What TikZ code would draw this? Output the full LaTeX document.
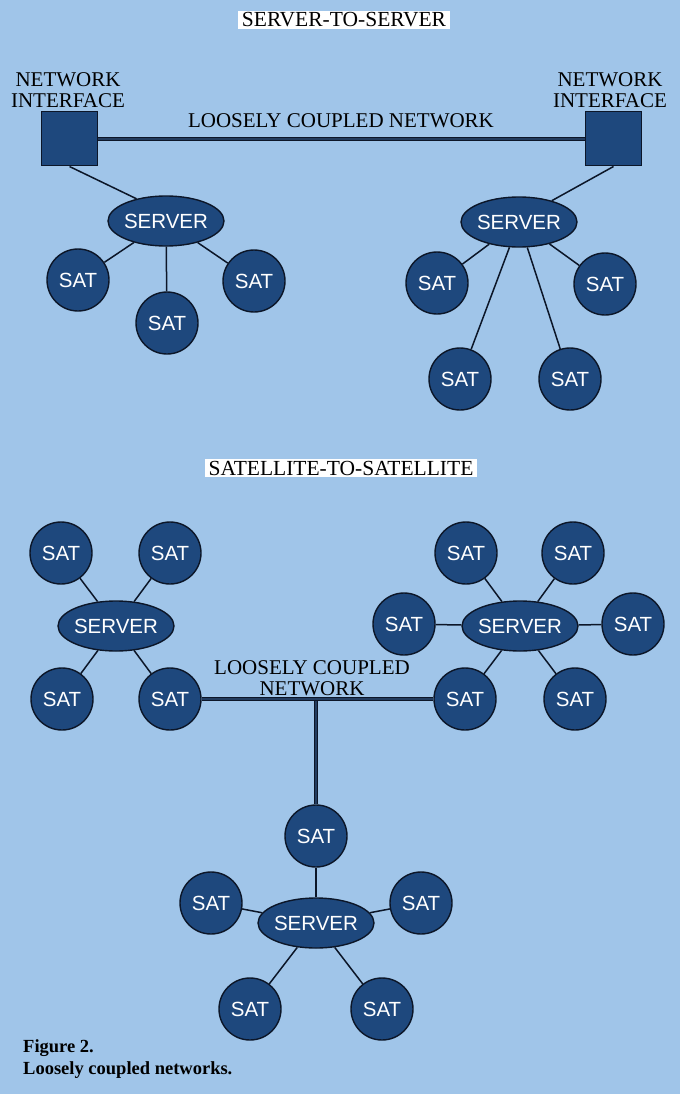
\documentclass[tikz,border=0pt]{standalone}
\usepackage{fontspec}
\setmainfont{Liberation Serif}
\newfontfamily\sansf{Liberation Sans}
\usetikzlibrary{shapes.geometric}
\definecolor{bg}{RGB}{160,197,233}
\definecolor{navy}{RGB}{30,72,125}
\definecolor{edgec}{RGB}{12,22,40}
\definecolor{wirein}{RGB}{35,60,95}
\tikzset{
  sat/.style={circle, draw=edgec, line width=1.4pt, fill=navy, minimum size=62pt, inner sep=0pt, text=white, font=\sansf\fontsize{20.5}{24}\selectfont},
  srv/.style={ellipse, draw=edgec, line width=1.4pt, fill=navy, minimum width=116pt, minimum height=50pt, inner sep=0pt, text=white, font=\sansf\fontsize{20.5}{24}\selectfont},
  nif/.style={rectangle, draw=edgec, line width=1pt, fill=navy, minimum width=56pt, minimum height=54pt, inner sep=0pt},
  link/.style={draw=edgec, line width=1.5pt},
  net/.style={draw=edgec, line width=1.6pt, double=wirein, double distance=1.2pt},
  lbl/.style={font=\fontsize{21}{21}\selectfont, inner sep=0pt, text=black, align=center},
  ttl/.style={fill=white, font=\fontsize{21.5}{22}\selectfont, inner xsep=3.5pt, inner ysep=1.5pt, text=black},
  capt/.style={font=\bfseries\fontsize{18.5}{21}\selectfont, inner sep=0pt, anchor=base west, text=black}
}
\newcommand{\srvtxt}{\makebox[0pt]{SERVER}}
\begin{document}
\begin{tikzpicture}[x=1pt,y=-1pt]
\fill[bg] (0,0) rectangle (680,1094);
\useasboundingbox (0,0) rectangle (680,1094);

% ---------- SERVER-TO-SERVER ----------
\node[ttl] (t1) at (344,20) {SERVER-TO-SERVER};
\node[lbl] (niA-l) at (68,90) {NETWORK\\INTERFACE};
\node[lbl] (niB-l) at (610,90) {NETWORK\\INTERFACE};
\node[lbl] (lcn1) at (341,121) {LOOSELY COUPLED NETWORK};

\node[nif] (nifA) at (69.5,139) {};
\node[nif] (nifB) at (613.5,139) {};

\node[srv] (srvA) at (166,221) {\srvtxt};
\node[sat] (satA1) at (78,280) {SAT};
\node[sat] (satA2) at (167,323) {SAT};
\node[sat] (satA3) at (254,281) {SAT};

\node[srv] (srvB) at (519,222) {\srvtxt};
\node[sat] (satB1) at (437,283) {SAT};
\node[sat] (satB2) at (605,284) {SAT};
\node[sat] (satB3) at (460,379) {SAT};
\node[sat] (satB4) at (570,379) {SAT};

\draw[net] (nifA.east) -- (nifB.west);
\draw[link] (nifA.south) -- (srvA.143);
\draw[link] (nifB.south) -- (srvB.33);
\foreach \s in {satA1,satA2,satA3} \draw[link] (srvA) -- (\s);
\foreach \s in {satB1,satB2,satB3,satB4} \draw[link] (srvB) -- (\s);

% ---------- SATELLITE-TO-SATELLITE ----------
\node[ttl] (t2) at (341,468) {SATELLITE-TO-SATELLITE};

\node[srv] (srvC) at (116,626) {\srvtxt};
\node[sat] (satC1) at (61,553) {SAT};
\node[sat] (satC2) at (170,553) {SAT};
\node[sat] (satC3) at (62,699) {SAT};
\node[sat] (satC4) at (170,699) {SAT};

\node[srv] (srvD) at (520,626) {\srvtxt};
\node[sat] (satD1) at (466,553) {SAT};
\node[sat] (satD2) at (573,553) {SAT};
\node[sat] (satD3) at (404,624) {SAT};
\node[sat] (satD4) at (633,624) {SAT};
\node[sat] (satD5) at (465,699) {SAT};
\node[sat] (satD6) at (575,699) {SAT};

\node[srv] (srvE) at (316,923) {\srvtxt};
\node[sat] (satE0) at (316,836) {SAT};
\node[sat] (satE1) at (211,903) {SAT};
\node[sat] (satE2) at (421,903) {SAT};
\node[sat] (satE3) at (250,1009) {SAT};
\node[sat] (satE4) at (382,1009) {SAT};

\node[lbl] (lcn2) at (312,678.5) {LOOSELY COUPLED\\NETWORK};

\foreach \s in {satC1,satC2,satC3,satC4} \draw[link] (srvC) -- (\s);
\foreach \s in {satD1,satD2,satD3,satD4,satD5,satD6} \draw[link] (srvD) -- (\s);
\foreach \s in {satE0,satE1,satE2,satE3,satE4} \draw[link] (srvE) -- (\s);

\coordinate (jn) at (316,699);
\draw[net] (jn) -- (satE0.north);
\draw[net] (satC4.east) -- (satD5.west);

% ---------- caption ----------
\node[capt] (cap1) at (23,1052) {Figure 2.};
\node[capt] (cap2) at (23,1074) {Loosely coupled networks.};
\end{tikzpicture}
\end{document}
